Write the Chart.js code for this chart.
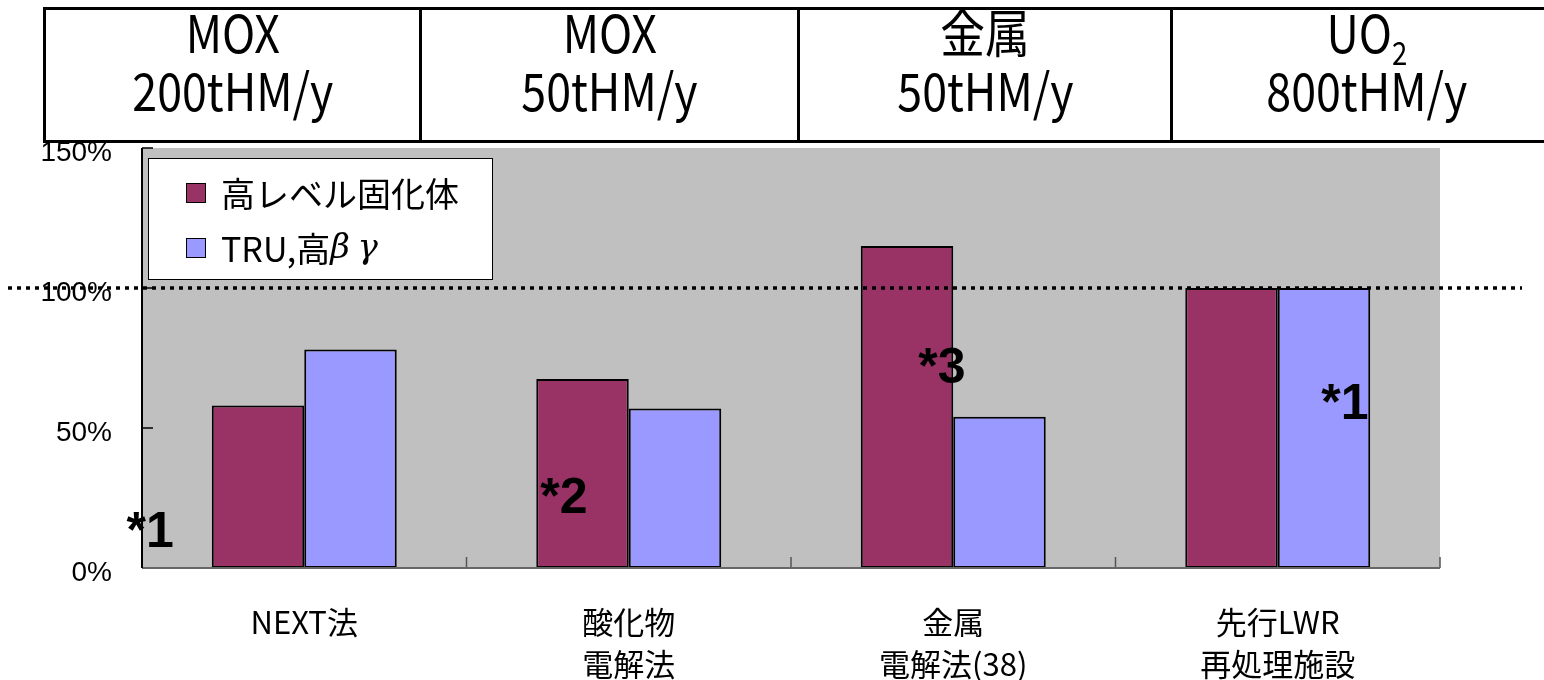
<!DOCTYPE html>
<html>
<head>
<meta charset="utf-8">
<script src="https://cdn.jsdelivr.net/npm/chart.js@4.4.1/dist/chart.umd.min.js"></script>
<style>
    html, body { margin: 0; padding: 0; background: #fff; }
    #wrap { position: relative; width: 1544px; height: 680px; overflow: hidden; }
    #chartBox { position: absolute; left: 0; top: 0; width: 1544px; height: 680px; }
    #header { position: absolute; left: 43px; top: 7px; height: 130px; display: flex;
              border-top: 3px solid #000; border-bottom: 3px solid #000; border-left: 3px solid #000; }
    .cell { height: 130px; border-right: 3px solid #000; box-sizing: border-box; text-align: center;
            font-family: "Noto Sans CJK JP", "Liberation Sans", sans-serif;
            font-size: 52px; line-height: 58px; padding-top: 0; color: #000; overflow: hidden; }
    .cell span { display: inline-block; transform: scaleX(0.86); white-space: nowrap;
                 position: relative; top: -8px; }
    .cell sub { font-size: 32px; vertical-align: -12px; line-height: 0; }
</style>
</head>
<body>
<div id="wrap">
    <div id="chartBox"><canvas id="chart"></canvas></div>
    <div id="header"></div>
</div>
<script>
// data
const categories = ['NEXT法', ['酸化物', '電解法'], ['金属', '電解法(38)'], ['先行LWR', '再処理施設']];
const seriesNames = ['高レベル固化体', 'TRU,高β γ'];
const hlwValues = [58, 67.5, 115, 100];
const truValues = [78, 57, 54, 100];
const yTicks = [0, 50, 100, 150];
const headerTop = ['MOX', 'MOX', '金属', 'UO<sub>2</sub>'];
const headerBottom = ['200tHM/y', '50tHM/y', '50tHM/y', '800tHM/y'];
const notes = ['*1', '*2', '*3', '*1'];
const noteCategory = [0, 1, 2, 3];
const noteValues = [12.5, 24.5, 71, 58];
const noteShift = [-0.475, -0.2, -0.035, 0.207];
const refLine = 100;

const cellWidths = [376, 378, 373, 390];
const header = document.getElementById('header');
headerTop.forEach((t, i) => {
    const c = document.createElement('div');
    c.className = 'cell';
    c.style.width = cellWidths[i] + 'px';
    c.innerHTML = '<span>' + t + '</span><br><span>' + headerBottom[i] + '</span>';
    header.appendChild(c);
});

const colors = ['#993366', '#9999FF'];

const decor = {
    id: 'decor',
    beforeDatasetsDraw(chart) {
        const { ctx, chartArea: a, scales } = chart;
        ctx.save();
        ctx.fillStyle = '#C0C0C0';
        ctx.fillRect(a.left, a.top, a.right - a.left, a.bottom - a.top);
        // inner ticks
        ctx.strokeStyle = '#000';
        ctx.lineWidth = 1.5;
        yTicks.forEach(v => {
            const y = scales.y.getPixelForValue(v);
            ctx.beginPath(); ctx.moveTo(a.left, y); ctx.lineTo(a.left + 11, y); ctx.stroke();
        });
        ctx.strokeStyle = '#555';
        const cw = (a.right - a.left) / categories.length;
        for (let i = 1; i <= categories.length; i++) {
            const x = a.left + cw * i;
            ctx.beginPath(); ctx.moveTo(x, a.bottom); ctx.lineTo(x, a.bottom - 11); ctx.stroke();
        }
        ctx.restore();
    },
    afterDatasetsDraw(chart) {
        const { ctx, chartArea: a, scales } = chart;
        ctx.save();
        // axes
        ctx.strokeStyle = '#666';
        ctx.lineWidth = 2;
        ctx.beginPath(); ctx.moveTo(a.left, a.bottom); ctx.lineTo(a.right, a.bottom); ctx.stroke();
        ctx.strokeStyle = '#000';
        ctx.beginPath(); ctx.moveTo(a.left, a.top); ctx.lineTo(a.left, a.bottom); ctx.stroke();

        // dotted reference line
        const ry = scales.y.getPixelForValue(refLine);
        ctx.setLineDash([4, 5]);
        ctx.lineWidth = 3.5;
        ctx.beginPath(); ctx.moveTo(8, ry); ctx.lineTo(chart.width - 22, ry); ctx.stroke();
        ctx.setLineDash([]);

        // notes
        const cw = (a.right - a.left) / categories.length;
        ctx.fillStyle = '#000';
        ctx.textAlign = 'center';
        ctx.textBaseline = 'middle';
        ctx.font = 'bold 50px "Liberation Sans", sans-serif';
        notes.forEach((n, i) => {
            const x = scales.x.getPixelForValue(noteCategory[i]) + noteShift[i] * cw;
            const y = scales.y.getPixelForValue(noteValues[i]);
            ctx.fillText(n, x, y);
        });

        // legend
        const lx = a.left + 6, ly = a.top + 10, lw = 344, lh = 121;
        ctx.fillStyle = '#fff';
        ctx.fillRect(lx, ly, lw, lh);
        ctx.strokeStyle = '#000';
        ctx.lineWidth = 1;
        ctx.strokeRect(lx + 0.5, ly + 0.5, lw, lh);
        ctx.textAlign = 'left';
        seriesNames.forEach((name, i) => {
            const cy = ly + 35 + i * 55;
            ctx.fillStyle = colors[i];
            ctx.fillRect(lx + 38, cy - 10, 19, 19);
            ctx.strokeRect(lx + 38.5, cy - 9.5, 19, 19);
            ctx.fillStyle = '#000';
            // greek letters in italic, like the original
            let x = lx + 73;
            name.split(/([βγ])/).forEach(part => {
                if (!part) return;
                const greek = /[βγ]/.test(part);
                ctx.font = (greek ? 'italic ' : '') + '34px ' + (greek ? '"DejaVu Serif", serif' : '"Noto Sans CJK JP", sans-serif');
                ctx.fillText(part, x, cy + 1);
                x += ctx.measureText(part).width;
            });
        });
        ctx.restore();
    }
};

new Chart(document.getElementById('chart'), {
    type: 'bar',
    data: {
        labels: categories,
        datasets: [
            { label: seriesNames[0], data: hlwValues, backgroundColor: colors[0] },
            { label: seriesNames[1], data: truValues, backgroundColor: colors[1] }
        ].map(d => Object.assign(d, {
            borderColor: '#000', borderWidth: 2, borderSkipped: false,
            categoryPercentage: 0.57, barPercentage: 1
        }))
    },
    options: {
        responsive: true,
        maintainAspectRatio: false,
        animation: false,
        layout: { padding: { top: 148, right: 104, left: 0, bottom: 0 } },
        plugins: { legend: { display: false }, tooltip: { enabled: false } },
        scales: {
            x: {
                grid: { display: false, drawTicks: false },
                border: { display: false },
                ticks: {
                    color: '#000', padding: 33, maxRotation: 0, autoSkip: false,
                    font: { family: '"Noto Sans CJK JP", sans-serif', size: 31, lineHeight: 1.36 }
                },
                afterFit(s) { s.height = 112; }
            },
            y: {
                min: 0, max: 150,
                grid: { display: false, drawTicks: false },
                border: { display: false },
                ticks: {
                    stepSize: 50, color: '#000', padding: 30, labelOffset: 5,
                    font: { family: '"Liberation Sans", Arial, sans-serif', size: 28 },
                    callback: v => v + '%'
                },
                afterFit(s) { s.width = 142; }
            }
        }
    },
    plugins: [decor]
});
</script>
</body>
</html>
